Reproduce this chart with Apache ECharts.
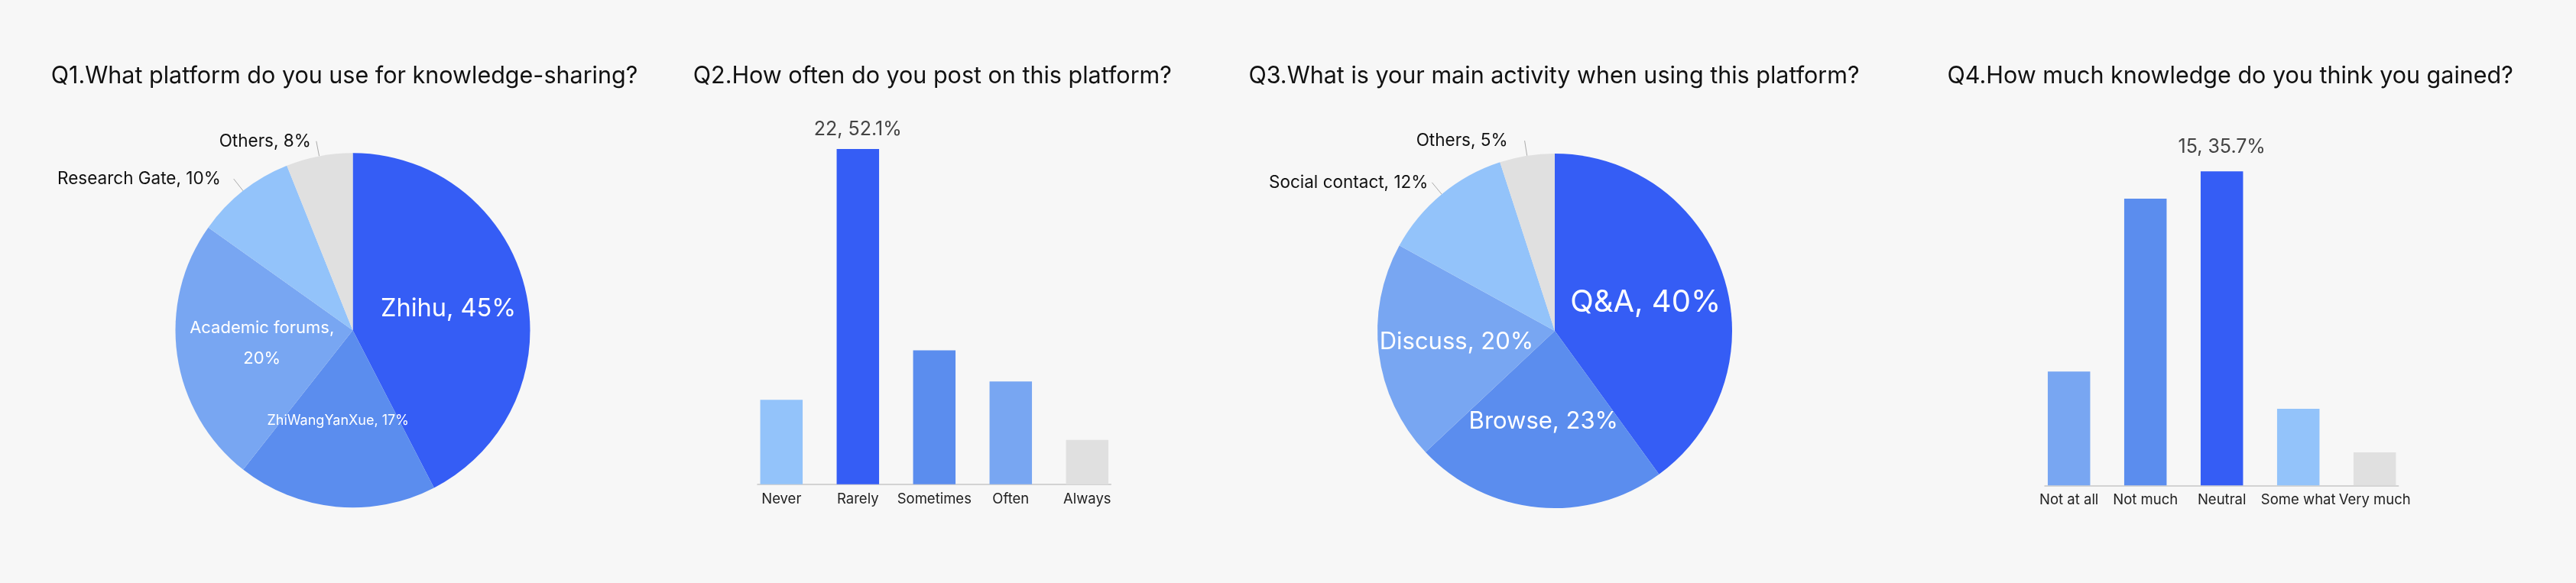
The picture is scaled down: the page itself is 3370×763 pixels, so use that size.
<!DOCTYPE html>
<html><head><meta charset="utf-8">
<script src="https://cdn.jsdelivr.net/npm/echarts@6/dist/echarts.min.js"></script>
<style>html,body{margin:0;padding:0;background:#f7f7f7}#main{width:3370px;height:763px}</style>
</head>
<body><div id="main"></div>
<script>
// ---------- DATA ----------
const titles = [
  'Q1.What platform do you use for knowledge-sharing?',
  'Q2.How often do you post on this platform?',
  'Q3.What is your main activity when using this platform?',
  'Q4.How much knowledge do you think you gained?'
];
const q1Names = ['Zhihu', 'ZhiWangYanXue', 'Academic forums', 'Research Gate', 'Others'];
const q1Values = [14, 6, 8, 3, 2];
const q1Labels = ['Zhihu, 45%', 'ZhiWangYanXue, 17%', 'Academic forums,\n20%', 'Research Gate, 10%', 'Others, 8%'];

const q2Categories = ['Never', 'Rarely', 'Sometimes', 'Often', 'Always'];
const q2Values = [5.54, 22, 8.78, 6.74, 2.91];
const q2ValueLabels = [null, '22, 52.1%', null, null, null];

const q3Names = ['Q&A', 'Browse', 'Discuss', 'Social contact', 'Others'];
const q3Values = [40, 23, 20, 12, 5];
const q3Labels = ['Q&A, 40%', 'Browse, 23%', 'Discuss, 20%', 'Social contact, 12%', 'Others, 5%'];

const q4Categories = ['Not at all', 'Not much', 'Neutral', 'Some what', 'Very much'];
const q4Values = [5.44, 13.7, 15, 3.66, 1.58];
const q4ValueLabels = [null, null, '15, 35.7%', null, null];

// ---------- STYLE ----------
const FONT = 'Inter';
const C_DARK = '#355df5', C_MED = '#5b8dee', C_LIGHT = '#78a6f2', C_LIGHTEST = '#93c3fa', C_GRAY = '#e0e0e0';
const q1Colors = [C_DARK, C_MED, C_LIGHT, C_LIGHTEST, C_GRAY];
const q3Colors = [C_DARK, C_MED, C_LIGHT, C_LIGHTEST, C_GRAY];
const q2Colors = [C_LIGHTEST, C_DARK, C_MED, C_LIGHT, C_GRAY];
const q4Colors = [C_LIGHT, C_MED, C_DARK, C_LIGHTEST, C_GRAY];

// per-slice label styling (inside/outside, size, nudge via padding)
const q1LabelStyle = [
  {pos: 'inside', size: 32.5, color: '#fff', pad: [29, 0, 0, 19]},
  {pos: 'inside', size: 18, color: '#fff', pad: [96, 16, 0, 0]},
  {pos: 'inside', size: 22, color: '#fff', pad: [13, 2, 0, 0], lh: 40},
  {pos: 'outside', size: 22.5, color: '#111', pad: [0, 12, 21, 0]},
  {pos: 'outside', size: 22.5, color: '#111', pad: [0, 2, 23, 0]}
];
const q3LabelStyle = [
  {pos: 'inside', size: 40, color: '#fff', pad: [18, 0, 0, 11]},
  {pos: 'inside', size: 31, color: '#fff', pad: [71, 7, 0, 0]},
  {pos: 'inside', size: 31, color: '#fff', pad: [0, 21, 12, 0]},
  {pos: 'outside', size: 22.5, color: '#111', pad: [0, 0, 22, 0]},
  {pos: 'outside', size: 22.5, color: '#111', pad: [0, 17, 11, 0]}
];

const TITLE_SIZE = 30.5;
const titleCenters = [450.5, 1219.8, 2033, 2917.7];

function textWidth(t, size) {
  const ctx = document.createElement('canvas').getContext('2d');
  ctx.font = size + 'px ' + FONT;
  return ctx.measureText(t).width;
}

function pieData(names, values, labels, colors, styles) {
  return names.map((n, i) => ({
    name: n,
    value: values[i],
    itemStyle: {color: colors[i], borderWidth: 0},
    label: {
      show: true,
      position: styles[i].pos,
      formatter: labels[i],
      fontFamily: FONT,
      fontSize: styles[i].size,
      color: styles[i].color,
      lineHeight: styles[i].lh || undefined,
      padding: styles[i].pad,
      align: 'center'
    },
    labelLine: {show: styles[i].pos === 'outside'}
  }));
}

function pieSeries(center, names, values, labels, colors, styles) {
  return {
    type: 'pie',
    center: center,
    radius: 232,
    startAngle: 90,
    clockwise: true,
    avoidLabelOverlap: false,
    silent: true,
    animation: false,
    label: {distanceToLabelLine: 5},
    labelLine: {length: 20, length2: 0, smooth: false, lineStyle: {color: '#aaaaaa', width: 1}},
    itemStyle: {borderWidth: 0},
    emphasis: {disabled: true},
    data: pieData(names, values, labels, colors, styles)
  };
}

function barSeries(xIdx, values, colors, valueLabels, dist) {
  return {
    type: 'bar',
    xAxisIndex: xIdx,
    yAxisIndex: xIdx,
    barWidth: 55.5,
    animation: false,
    silent: true,
    data: values.map((v, i) => ({
      value: v,
      itemStyle: {color: colors[i]},
      label: valueLabels[i] ? {
        show: true, position: 'top', distance: dist, formatter: valueLabels[i],
        fontFamily: FONT, fontSize: 25, color: '#444'
      } : {show: false}
    }))
  };
}

const catAxisLabel = {show: true, interval: 0, margin: 10, fontFamily: FONT, fontSize: 18.5, color: '#222'};

const grids = [
  // Q2 bars grid (band = 100px)
  {left: 972.3, top: 195, width: 500, height: 438.7},
  // Q2 axis-line grid
  {left: 991, top: 195, width: 462.3, height: 438.7},
  // Q4 bars grid
  {left: 2656.7, top: 224.3, width: 500, height: 411},
  // Q4 axis-line grid
  {left: 2675, top: 224.3, width: 462.7, height: 411}
].map(g => Object.assign({containLabel: false, outerBoundsMode: 'none'}, g));

const xAxes = [
  {gridIndex: 0, type: 'category', data: q2Categories, boundaryGap: true,
   axisLine: {show: false}, axisTick: {show: false}, axisLabel: catAxisLabel, splitLine: {show: false}},
  {gridIndex: 1, type: 'category', data: q2Categories,
   axisLine: {show: true, lineStyle: {color: '#c8c8c8', width: 1.5}}, axisTick: {show: false}, axisLabel: {show: false}, splitLine: {show: false}},
  {gridIndex: 2, type: 'category', data: q4Categories, boundaryGap: true,
   axisLine: {show: false}, axisTick: {show: false}, axisLabel: catAxisLabel, splitLine: {show: false}},
  {gridIndex: 3, type: 'category', data: q4Categories,
   axisLine: {show: true, lineStyle: {color: '#c8c8c8', width: 1.5}}, axisTick: {show: false}, axisLabel: {show: false}, splitLine: {show: false}}
];
const yAxes = [
  {gridIndex: 0, type: 'value', min: 0, max: Math.max(...q2Values), show: false},
  {gridIndex: 1, type: 'value', min: 0, max: 1, show: false},
  {gridIndex: 2, type: 'value', min: 0, max: Math.max(...q4Values), show: false},
  {gridIndex: 3, type: 'value', min: 0, max: 1, show: false}
];

const titleOpts = titles.map((t, i) => ({
  text: t,
  left: titleCenters[i] - textWidth(t, TITLE_SIZE) / 2,
  top: 84,
  padding: 0,
  textStyle: {fontFamily: FONT, fontSize: TITLE_SIZE, fontWeight: 'normal', color: '#111'}
}));

const chart = echarts.init(document.getElementById('main'), null, {renderer: 'canvas', width: 3370, height: 763});
chart.setOption({
  backgroundColor: '#f7f7f7',
  animation: false,
  textStyle: {fontFamily: FONT},
  title: titleOpts,
  grid: grids,
  xAxis: xAxes,
  yAxis: yAxes,
  tooltip: {show: false},
  legend: {show: false},
  series: [
    pieSeries([461.5, 432.2], q1Names, q1Values, q1Labels, q1Colors, q1LabelStyle),
    barSeries(0, q2Values, q2Colors, q2ValueLabels, 13.5),
    pieSeries([2034, 433], q3Names, q3Values, q3Labels, q3Colors, q3LabelStyle),
    barSeries(2, q4Values, q4Colors, q4ValueLabels, 19)
  ]
});
</script></body></html>
